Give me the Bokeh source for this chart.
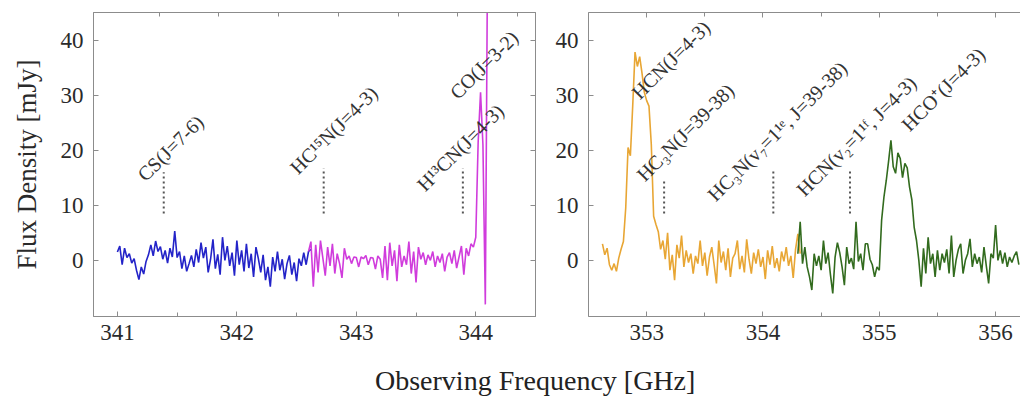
import numpy as np
from bokeh.plotting import figure
from bokeh.models import ColumnDataSource, Range1d, LinearAxis, SingleIntervalTicker, FixedTicker, Div
from bokeh.layouts import row, column
from bokeh.core.properties import value
from bokeh.embed import file_html
from bokeh.resources import INLINE

# ---------------- data ----------------
CHANNEL_GHZ = 0.02

blue_start = 341.00
blue_flux = [1.5, 2.6, -0.8, 2.2, 0.5, 1.2, -0.5, 0.3, -1.8, -3.5,
             -1.2, -2.5, -0.2, 1.0, 2.8, 0.8, 3.5, 1.6, 2.5, 0.2,
             1.8, -0.5, 2.2, 0.6, 5.3, 0.5, 1.6, -1.5, 0.8, -2.0,
             -0.6, 0.9, -1.2, 2.0, -0.4, 3.2, 0.4, 2.4, -2.2, 0.2,
             3.8, -1.5, 1.1, -2.6, 4.2, 0.0, 2.6, -1.0, 1.4, -2.8,
             3.6, -0.8, 1.8, -2.0, 3.0, -1.4, 1.2, -3.0, 2.4, 0.3,
             -2.2, 1.0, -3.6, -1.2, -4.8, 0.6, -2.0, 1.6, -1.8, 0.2,
             -3.4, -0.6, 0.9, -2.6, -0.4, -3.8, 0.3, -1.0, 1.4, -0.8,
             1.6, 2.0]

magenta_start = 342.60
magenta_flux = [1.6, 3.4, -4.8, 2.8, -2.2, 3.6, 0.4, -2.8, 2.4, -1.0,
                3.0, -2.4, 1.2, -0.6, -3.2, 2.2, 0.2, 0.8, -0.6, 0.6,
                0.5, -1.2, 0.6, 0.3, 0.9, -0.8, 0.5, 0.4, -1.6, 0.8,
                0.2, -3.2, 2.6, -3.6, 3.2, -1.0, 1.8, -3.8, 2.8, -1.2,
                0.8, -0.8, 3.4, -2.4, 1.6, -4.0, 2.4, 0.2, 1.4, -0.8,
                1.0, 0.0, 1.6, -1.2, 0.8, -0.4, 1.2, -2.0, 0.6, 1.4,
                -0.6, 1.8, -1.4, 0.6, 2.6, -2.6, 2.2, 0.8, 3.0, 2.4,
                4.2, 21.5, 30.5, 21.0, -8.0, 60.0]

orange_start = 352.62
orange_flux = [3.0, 1.0, 2.2, -0.8, -1.8, -0.6, -2.0, 0.4, 2.0, 3.4,
               9.5, 20.5, 19.0, 28.0, 37.8, 35.2, 37.0, 34.0, 30.5, 29.0,
               28.0, 21.0, 8.0, 6.5, 5.2, 2.0, 3.6, 0.2, 5.0, -1.8,
               1.0, -3.6, 2.8, 0.4, 4.5, -1.2, 1.8, -0.4, 1.2, -2.4,
               0.8, -0.6, 3.6, -1.0, 1.4, -2.8, 0.6, 2.4, -0.8, -4.2,
               3.6, -0.4, 1.6, -1.8, 2.2, -3.0, 0.4, 1.2, 3.6, -1.6,
               0.8, -2.2, 3.8, 0.2, -2.4, 1.4, -0.6, 2.0, -1.2, 0.6,
               -3.4, 1.8, -0.8, 2.6, -1.4, 0.4, -2.0, 1.6, -0.2, 2.4,
               -1.0, 0.8, -3.2, 2.0, 4.8, 1.2]

green_start = 354.30
green_flux = [1.2, 7.0, -0.6, 2.4, -1.2, -3.0, -5.4, 1.2, -1.0, 0.8,
              -1.8, 3.6, -0.6, 1.4, -2.6, -6.0, 0.6, 3.2, 1.4, -1.2,
              -4.5, 2.4, -0.6, 0.4, -1.6, 7.0, -0.2, 1.2, -1.8, 3.0,
              3.0, 0.2, -0.8, -3.0, -1.2, -1.8, 7.3, 11.5, 14.5, 18.0,
              21.8, 17.0, 15.8, 19.5, 18.5, 15.0, 17.6, 16.8, 13.3, 11.0,
              6.0, 3.6, 0.0, -4.8, 2.2, -2.4, 4.2, -0.6, 1.2, -3.0,
              1.8, -1.8, 1.2, -0.4, 2.0, -2.4, 4.5, -3.0, 0.0, 2.0,
              3.0, -2.4, 0.0, 1.2, 3.9, -1.2, 1.2, -0.6, 0.6, -2.2,
              2.4, -1.0, -4.2, 1.2, 0.4, 6.4, 0.0, 1.8, -0.6, 1.4,
              -1.2, 0.6, -0.4, 0.8, 1.6, -0.8]

# line markers (dotted) and labels
left_marker_freq = [341.388, 342.727, 343.892]
left_marker_lo = [8.5, 8.5, 8.5]
left_marker_hi = [16.0, 16.7, 16.7]
left_label_text = ["CS(J=7-6)", "HC\u00b9\u2075N(J=4-3)", "H\u00b9\u00b3CN(J=4-3)", "CO(J=3-2)"]
left_label_x = [341.262, 342.537, 343.600, 343.876]
left_label_y = [13.6, 14.9, 11.8, 28.5]

right_marker_freq = [353.150, 354.089, 354.748]
right_marker_lo = [8.5, 8.5, 8.5]
right_marker_hi = [14.5, 16.4, 16.4]
right_label_text = ["HCN(J=4-3)", "HC\u2083N(J=39-38)",
                    "HC\u2083N(v\u2087=1\u00b9\u1d49, J=39-38)",
                    "HCN(v\u2082=1\u00b9\u1da0, J=4-3)", "HCO\u207a(J=4-3)"]
right_label_x = [352.966, 353.009, 353.619, 354.384, 355.287]
right_label_y = [28.5, 13.6, 10.0, 10.9, 22.7]

y_ticks = [0, 10, 20, 30, 40]
left_top_ticks = [341.35, 341.85, 342.35, 342.85, 343.35, 343.85, 344.35]

y_label = "Flux Density [mJy]"
x_label = "Observing Frequency [GHz]"

# ---------------- styling ----------------
SERIF = "Liberation Serif"
AX = "#8c8c8c"
TXT = "#2a2a2a"
C_BLUE = "#2323c8"
C_MAG = "#d03cdc"
C_ORANGE = "#e8a634"
C_GREEN = "#326b1e"


def channel_freqs(start, vals):
    return [round(start + CHANNEL_GHZ * i, 4) for i in range(len(vals))]


def style_axis(ax, labels=True):
    ax.axis_line_color = AX
    ax.major_tick_line_color = AX
    ax.minor_tick_line_color = AX
    ax.major_tick_in = 5
    ax.major_tick_out = 0
    ax.minor_tick_in = 4
    ax.minor_tick_out = 0
    ax.major_label_text_font = SERIF
    if labels:
        ax.major_label_text_color = TXT
        ax.major_label_text_font_size = "23px"
    else:
        ax.major_label_text_color = None
        ax.major_label_text_font_size = "1px"
        ax.major_label_standoff = 0


def make_fig(width, xr, border_left, border_right, outline):
    p = figure(width=width, height=356, x_range=Range1d(*xr), y_range=Range1d(-10.2, 45.0),
               output_backend="svg", toolbar_location=None,
               min_border_left=border_left, min_border_right=border_right,
               min_border_top=12, min_border_bottom=40)
    p.xgrid.visible = False
    p.ygrid.visible = False
    p.outline_line_color = AX if outline else None
    p.background_fill_color = "white"
    p.border_fill_color = "white"
    p.xaxis.ticker = SingleIntervalTicker(interval=1, num_minor_ticks=2)
    p.yaxis.ticker = FixedTicker(ticks=y_ticks)
    for ax in p.xaxis:
        style_axis(ax)
        ax.major_label_standoff = 8
    for ax in p.yaxis:
        style_axis(ax)
        ax.major_label_standoff = 10
        ax.minor_tick_line_color = None
    return p


def add_markers(p, freq, lo, hi, lx, ly, ltext):
    src = ColumnDataSource(dict(x=freq, lo=lo, hi=hi))
    p.segment(x0="x", y0="lo", x1="x", y1="hi", source=src, line_color="#555555",
              line_width=2, line_dash="2 3")
    tsrc = ColumnDataSource(dict(x=lx, y=ly, t=ltext))
    p.text(x="x", y="y", text="t", source=tsrc, angle=45, angle_units="deg",
           text_align="left", text_baseline="bottom", text_font=value(SERIF),
           text_font_size="20px", text_color="#333333")


# ---------------- left panel ----------------
p1 = make_fig(540, (340.80, 344.50), 93, 5, True)
p1.yaxis[0].axis_label = y_label
p1.yaxis[0].axis_label_text_font = SERIF
p1.yaxis[0].axis_label_text_font_style = "normal"
p1.yaxis[0].axis_label_text_font_size = "27px"
p1.yaxis[0].axis_label_text_color = TXT
p1.yaxis[0].axis_label_standoff = 16

p1.line(channel_freqs(blue_start, blue_flux), blue_flux, line_color=C_BLUE, line_width=1.6)
p1.line(channel_freqs(magenta_start, magenta_flux), magenta_flux, line_color=C_MAG, line_width=1.6)
add_markers(p1, left_marker_freq, left_marker_lo, left_marker_hi,
            left_label_x, left_label_y, left_label_text)

top1 = LinearAxis(ticker=FixedTicker(ticks=left_top_ticks))
style_axis(top1, labels=False)
top1.major_tick_in = 4
p1.add_layout(top1, "above")
right1 = LinearAxis(ticker=FixedTicker(ticks=y_ticks))
style_axis(right1, labels=False)
right1.minor_tick_line_color = None
p1.add_layout(right1, "right")

# ---------------- right panel ----------------
p2 = make_fig(480, (352.50, 356.214), 48, 0, False)
p2.line(channel_freqs(orange_start, orange_flux), orange_flux, line_color=C_ORANGE, line_width=1.6)
p2.line(channel_freqs(green_start, green_flux), green_flux, line_color=C_GREEN, line_width=1.6)
add_markers(p2, right_marker_freq, right_marker_lo, right_marker_hi,
            right_label_x, right_label_y, right_label_text)

top2 = LinearAxis(ticker=SingleIntervalTicker(interval=1, num_minor_ticks=2))
style_axis(top2, labels=False)
p2.add_layout(top2, "above")

xlabel = Div(text=('<div style="padding-left:370px; font-family:\'Liberation Serif\'; '
                   'font-size:28px; color:#222; white-space:nowrap;">' + x_label + '</div>'),
             width=1020, height=40)

layout = column(row(p1, p2), xlabel)
open("out.html", "w").write(file_html(layout, INLINE))
